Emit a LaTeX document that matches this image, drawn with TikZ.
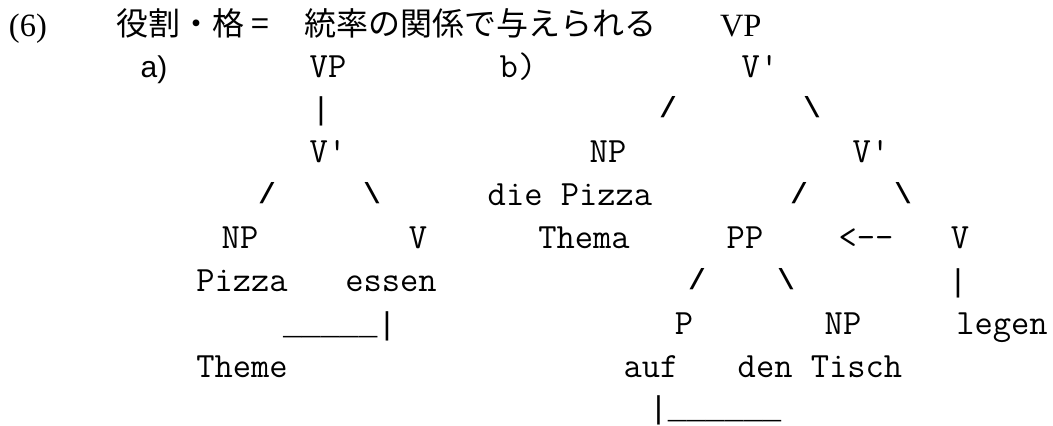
\documentclass[tikz,border=0pt]{standalone}
\usepackage{fontspec}
\setmainfont{Liberation Serif}
\setsansfont{Liberation Sans}
\setmonofont{Latin Modern Mono}
\newfontfamily\cjkfont{Noto Sans CJK JP}
\newfontfamily\rulefont{Liberation Mono}
\tikzset{
  tt/.style={font=\ttfamily\fontsize{35.5pt}{40pt}\selectfont, inner sep=0pt, outer sep=0pt, anchor=base},
  ttr/.style={font=\rulefont\fontsize{31.5pt}{36pt}\selectfont, inner sep=0pt, outer sep=0pt, anchor=base},
  sl/.style={font=\rulefont\bfseries\fontsize{29pt}{34pt}\selectfont, inner sep=0pt, outer sep=0pt, anchor=base},
  ttrw/.style={ttr, anchor=base west},
  ser/.style={font=\rmfamily\fontsize{32.5pt}{36pt}\selectfont, inner sep=0pt, outer sep=0pt, anchor=base west},
  jp/.style={font=\cjkfont\fontsize{32pt}{36pt}\selectfont, inner sep=0pt, outer sep=0pt, anchor=base west},
  sf/.style={font=\sffamily\fontsize{30pt}{34pt}\selectfont, inner sep=0pt, outer sep=0pt, anchor=base}
}
\begin{document}
\begin{tikzpicture}[x=1pt,y=-1pt]
\useasboundingbox (0,0) rectangle (1053,426);
% header
\node[ser] (num) at (9,36) {(6)};
\node[jp] (h1) at (116,35) {役割・格 =};
\node[jp] (h2) at (304,35) {統率の関係で与えられる};
\node[ser] (hvp) at (720,36) {VP};
% row B
\node[sf] (la) at (154,77) {a)};
\node[tt] (aVP) at (328,77) {VP};
\node[tt] (lb) at (518,77) {b)};
\node[tt] (bVb) at (760,77) {V'};
% row C
\node[ttr] (aBar1) at (321,119) {|};
\node[sl] (bS1) at (668,117) {/};
\node[sl] (bB1) at (812,117) {\textbackslash};
% row D
\node[tt] (aVb) at (328,162) {V'};
\node[tt] (bNP) at (608,162) {NP};
\node[tt] (bVb2) at (871,162) {V'};
% row E
\node[sl] (aS1) at (267,203) {/};
\node[sl] (aB1) at (372,203) {\textbackslash};
\node[tt] (bdie) at (570,205) {die Pizza};
\node[sl] (bS2) at (799,203) {/};
\node[sl] (bB2) at (903,203) {\textbackslash};
% row F
\node[tt] (aNP) at (240,248) {NP};
\node[tt] (aV) at (418,248) {V};
\node[tt] (bThema) at (584,248) {Thema};
\node[tt] (bPP) at (745,248) {PP};
\node[tt] (bArr) at (866,248) {<--};
\node[tt] (bV) at (960,248) {V};
% row G
\node[tt] (aPizza) at (242,291) {Pizza};
\node[tt] (aessen) at (391,291) {essen};
\node[sl] (bS3) at (697,289) {/};
\node[sl] (bB3) at (786,289) {\textbackslash};
\node[ttr] (bBar1) at (958,291) {|};
% row H
\node[ttrw] (aLine) at (283,334) {\_\_\_\_\_|};
\node[tt] (bP) at (684,334) {P};
\node[tt] (bNP2) at (843,334) {NP};
\node[tt] (blegen) at (1002,334) {legen};
% row I
\node[tt] (aTheme) at (242,377) {Theme};
\node[tt] (bauf) at (651,377) {auf};
\node[tt] (bTisch) at (820,377) {den Tisch};
% row J
\node[ttrw] (bLine) at (649,418) {|\_\_\_\_\_\_};
\end{tikzpicture}
\end{document}
